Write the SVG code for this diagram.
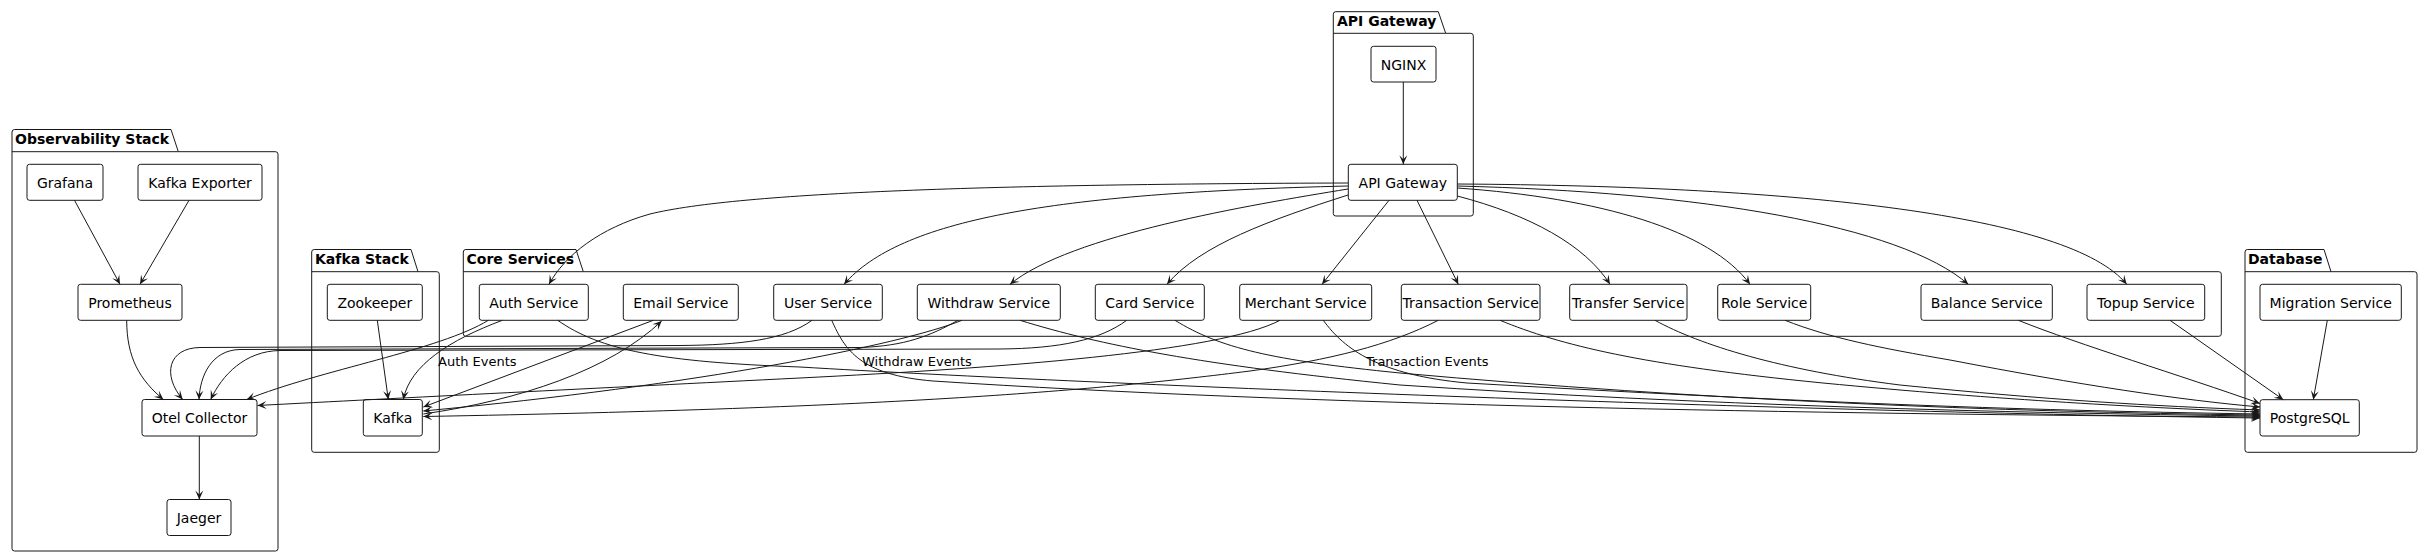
<svg xmlns="http://www.w3.org/2000/svg" width="2429" height="557" viewBox="0 0 2429 557">
<style>
.pkg{fill:none;stroke:#181818;stroke-width:1}
.pt{font-family:"DejaVu Sans",sans-serif;font-size:14px;font-weight:bold;fill:#000}
.n rect{fill:#fff;stroke:#181818;stroke-width:1}
.n text{font-family:"DejaVu Sans",sans-serif;font-size:14px;fill:#000;text-anchor:middle}
.e path{fill:none;stroke:#181818;stroke-width:1;marker-end:url(#ah)}
.el{font-family:"DejaVu Sans",sans-serif;font-size:13px;fill:#000}
</style>
<defs>
<marker id="ah" viewBox="-10 -5 11 10" refX="0" refY="0" markerWidth="11" markerHeight="10" markerUnits="userSpaceOnUse" orient="auto">
<path d="M0,0 L-9,-4 L-5,0 L-9,4 Z" fill="#181818"/>
</marker>
</defs>
<rect width="2429" height="557" fill="#fff"/>
<g id="packages">
<g id="pkg-observability"><path class="pkg" d="M14.5,129.5 L171,129.5 L178.3,151.7 L275.5,151.7 Q278,151.7 278,154.2 L278,548.5 Q278,551 275.5,551 L14.5,551 Q12,551 12,548.5 L12,132 Q12,129.5 14.5,129.5 Z M12,151.7 L178.3,151.7"/><text class="pt" x="15" y="144">Observability Stack</text></g>
<g id="pkg-kafka"><path class="pkg" d="M314.2,249.5 L411,249.5 L418,271.7 L436.8,271.7 Q439.3,271.7 439.3,274.2 L439.3,449.8 Q439.3,452.3 436.8,452.3 L314.2,452.3 Q311.7,452.3 311.7,449.8 L311.7,252 Q311.7,249.5 314.2,249.5 Z M311.7,271.7 L418,271.7"/><text class="pt" x="315" y="264">Kafka Stack</text></g>
<g id="pkg-core"><path class="pkg" d="M465.8,249.5 L576,249.5 L583.3,271.7 L2218.8,271.7 Q2221.3,271.7 2221.3,274.2 L2221.3,333.8 Q2221.3,336.3 2218.8,336.3 L465.8,336.3 Q463.3,336.3 463.3,333.8 L463.3,252 Q463.3,249.5 465.8,249.5 Z M463.3,271.7 L583.3,271.7"/><text class="pt" x="466.5" y="264">Core Services</text></g>
<g id="pkg-gateway"><path class="pkg" d="M1335.8,11.7 L1438.3,11.7 L1445.7,33.3 L1470.8,33.3 Q1473.3,33.3 1473.3,35.8 L1473.3,213.5 Q1473.3,216 1470.8,216 L1335.8,216 Q1333.3,216 1333.3,213.5 L1333.3,14.2 Q1333.3,11.7 1335.8,11.7 Z M1333.3,33.3 L1445.7,33.3"/><text class="pt" x="1337" y="26.2">API Gateway</text></g>
<g id="pkg-database"><path class="pkg" d="M2247.5,249.5 L2324,249.5 L2331,271.7 L2414.5,271.7 Q2417,271.7 2417,274.2 L2417,449.8 Q2417,452.3 2414.5,452.3 L2247.5,452.3 Q2245,452.3 2245,449.8 L2245,252 Q2245,249.5 2247.5,249.5 Z M2245,271.7 L2331,271.7"/><text class="pt" x="2248" y="264">Database</text></g>
</g>
<g id="nodes">
<g id="grafana" class="n"><rect x="27" y="164.3" width="76" height="36" rx="2.5"/><text x="65" y="188">Grafana</text></g>
<g id="kafka-exporter" class="n"><rect x="138" y="164.3" width="124" height="36" rx="2.5"/><text x="200" y="188">Kafka Exporter</text></g>
<g id="prometheus" class="n"><rect x="78" y="284.3" width="104" height="36" rx="2.5"/><text x="130" y="308">Prometheus</text></g>
<g id="otel-collector" class="n"><rect x="142" y="399.5" width="115" height="36.5" rx="2.5"/><text x="199.5" y="423.3">Otel Collector</text></g>
<g id="jaeger" class="n"><rect x="167" y="499.5" width="64" height="36" rx="2.5"/><text x="199" y="523.2">Jaeger</text></g>
<g id="zookeeper" class="n"><rect x="327.3" y="284.3" width="95" height="36" rx="2.5"/><text x="374.8" y="308">Zookeeper</text></g>
<g id="kafka" class="n"><rect x="363.3" y="399.5" width="59" height="36.5" rx="2.5"/><text x="392.8" y="423.3">Kafka</text></g>
<g id="nginx" class="n"><rect x="1371" y="46.3" width="65" height="35.7" rx="2.5"/><text x="1403.5" y="70">NGINX</text></g>
<g id="api-gateway" class="n"><rect x="1348.3" y="164.3" width="109" height="36" rx="2.5"/><text x="1402.8" y="188">API Gateway</text></g>
<g id="auth-service" class="n"><rect x="479.3" y="284.3" width="109" height="36" rx="2.5"/><text x="533.8" y="308">Auth Service</text></g>
<g id="email-service" class="n"><rect x="623.3" y="284.3" width="115" height="36" rx="2.5"/><text x="680.8" y="308">Email Service</text></g>
<g id="user-service" class="n"><rect x="773.7" y="284.3" width="108.6" height="36" rx="2.5"/><text x="828" y="308">User Service</text></g>
<g id="withdraw-service" class="n"><rect x="917.3" y="284.3" width="143" height="36" rx="2.5"/><text x="988.8" y="308">Withdraw Service</text></g>
<g id="card-service" class="n"><rect x="1095.3" y="284.3" width="109" height="36" rx="2.5"/><text x="1149.8" y="308">Card Service</text></g>
<g id="merchant-service" class="n"><rect x="1239.7" y="284.3" width="132" height="36" rx="2.5"/><text x="1305.7" y="308">Merchant Service</text></g>
<g id="transaction-service" class="n"><rect x="1401.3" y="284.3" width="138.7" height="36" rx="2.5"/><text x="1470.7" y="308">Transaction Service</text></g>
<g id="transfer-service" class="n"><rect x="1569.7" y="284.3" width="117.3" height="36" rx="2.5"/><text x="1628.3" y="308">Transfer Service</text></g>
<g id="role-service" class="n"><rect x="1717.7" y="284.3" width="93" height="36" rx="2.5"/><text x="1764.2" y="308">Role Service</text></g>
<g id="balance-service" class="n"><rect x="1921" y="284.3" width="131.3" height="36" rx="2.5"/><text x="1986.7" y="308">Balance Service</text></g>
<g id="topup-service" class="n"><rect x="2087" y="284.3" width="117.7" height="36" rx="2.5"/><text x="2145.8" y="308">Topup Service</text></g>
<g id="migration-service" class="n"><rect x="2260" y="284.3" width="141.3" height="36" rx="2.5"/><text x="2330.7" y="308">Migration Service</text></g>
<g id="postgresql" class="n"><rect x="2260" y="399.7" width="99.3" height="36.3" rx="2.5"/><text x="2309.7" y="423.4">PostgreSQL</text></g>
</g>
<g id="connectors" class="e">
<path d="M74.5,200.3 L120,284.3"/>
<path d="M189,200.3 L140,284.3"/>
<path d="M126.7,320.3 C126.7,358 140,380 163.3,399.5"/>
<path d="M199.3,436 L199.3,499.5"/>
<path d="M377.3,320.3 L388.3,399.5"/>
<path d="M1403.3,82 L1403.3,164.3"/>
<path d="M1348,183 C1000,184 740,192 650,214 C600,228 565,255 549,284.3"/>
<path d="M1348,186 C1050,193 900,220 844,284.3"/>
<path d="M1348,189 C1250,205 1070,235 1010,284.3"/>
<path d="M1348,195 C1270,220 1200,245 1167,284.3"/>
<path d="M1389,200.3 L1322,284.3"/>
<path d="M1417,200.3 L1458.3,284.3"/>
<path d="M1457.3,196 C1530,215 1585,245 1610,284.3"/>
<path d="M1457.3,188 C1600,198 1710,230 1750,284.3"/>
<path d="M1457.3,186 C1700,192 1900,225 1968.3,284.3"/>
<path d="M1457.3,184 C1800,186 2070,215 2126.7,284.3"/>
<path d="M502.3,320.3 C450,340 410,365 403.3,399.5"/>
<path d="M488.3,320.3 C440,350 320,370 246.7,399.5"/>
<path d="M653.3,320.3 L423.3,407"/>
<path d="M423.3,414 C520,400 610,370 661.7,321"/>
<path d="M812,320.3 C785,340 740,345 680,345.5 L200,347.5 C168,348 162,375 182.7,399.5"/>
<path d="M958,320.3 C930,336 905,346 860,347.5 L240,349.5 C212,350 200,375 199,399.5"/>
<path d="M1126.7,320.3 C1100,340 1060,348.5 1000,349 L280,350.5 C245,351 222,375 210.7,399.5"/>
<path d="M1280,320.3 C1220,352 1000,368 800,378 C600,388 400,398 257.5,405.5"/>
<path d="M962,320.3 C900,345 700,385 423.3,411"/>
<path d="M1438.3,320.3 C1390,345 1330,360 1250,371 C1100,390 900,408 423.3,416.5"/>
<path d="M557.7,320.3 C600,350 660,362 800,367 C1100,385 1800,412 2260,418"/>
<path d="M831.7,320.3 C845,350 860,375 933,381 C1300,405 1800,414 2260,417"/>
<path d="M1020,320.3 C1100,345 1200,365 1400,385 C1700,405 2000,413 2260,416"/>
<path d="M1175,320.3 C1220,348 1270,360 1400,373 C1700,400 2000,412 2260,415"/>
<path d="M1323.3,320.3 C1345,350 1380,375 1467,383 C1800,402 2000,410 2260,414"/>
<path d="M1500,320.3 C1560,345 1640,365 1823,383 C2000,400 2150,408 2260,412"/>
<path d="M1655,320.3 C1700,345 1780,370 1900,385 C2050,400 2150,406 2260,410"/>
<path d="M1785,320.3 C1830,338 1880,348 1950,360 C2080,385 2180,400 2260,407"/>
<path d="M2018.3,320.3 C2080,345 2180,375 2260,403.5"/>
<path d="M2170,320.3 L2283.3,399.7"/>
<path d="M2327.3,320.3 L2313.3,399.7"/>
</g>
<g id="edge-labels">
<text class="el" x="438" y="366">Auth Events</text>
<text class="el" x="862" y="366">Withdraw Events</text>
<text class="el" x="1366" y="366">Transaction Events</text>
</g>
</svg>
